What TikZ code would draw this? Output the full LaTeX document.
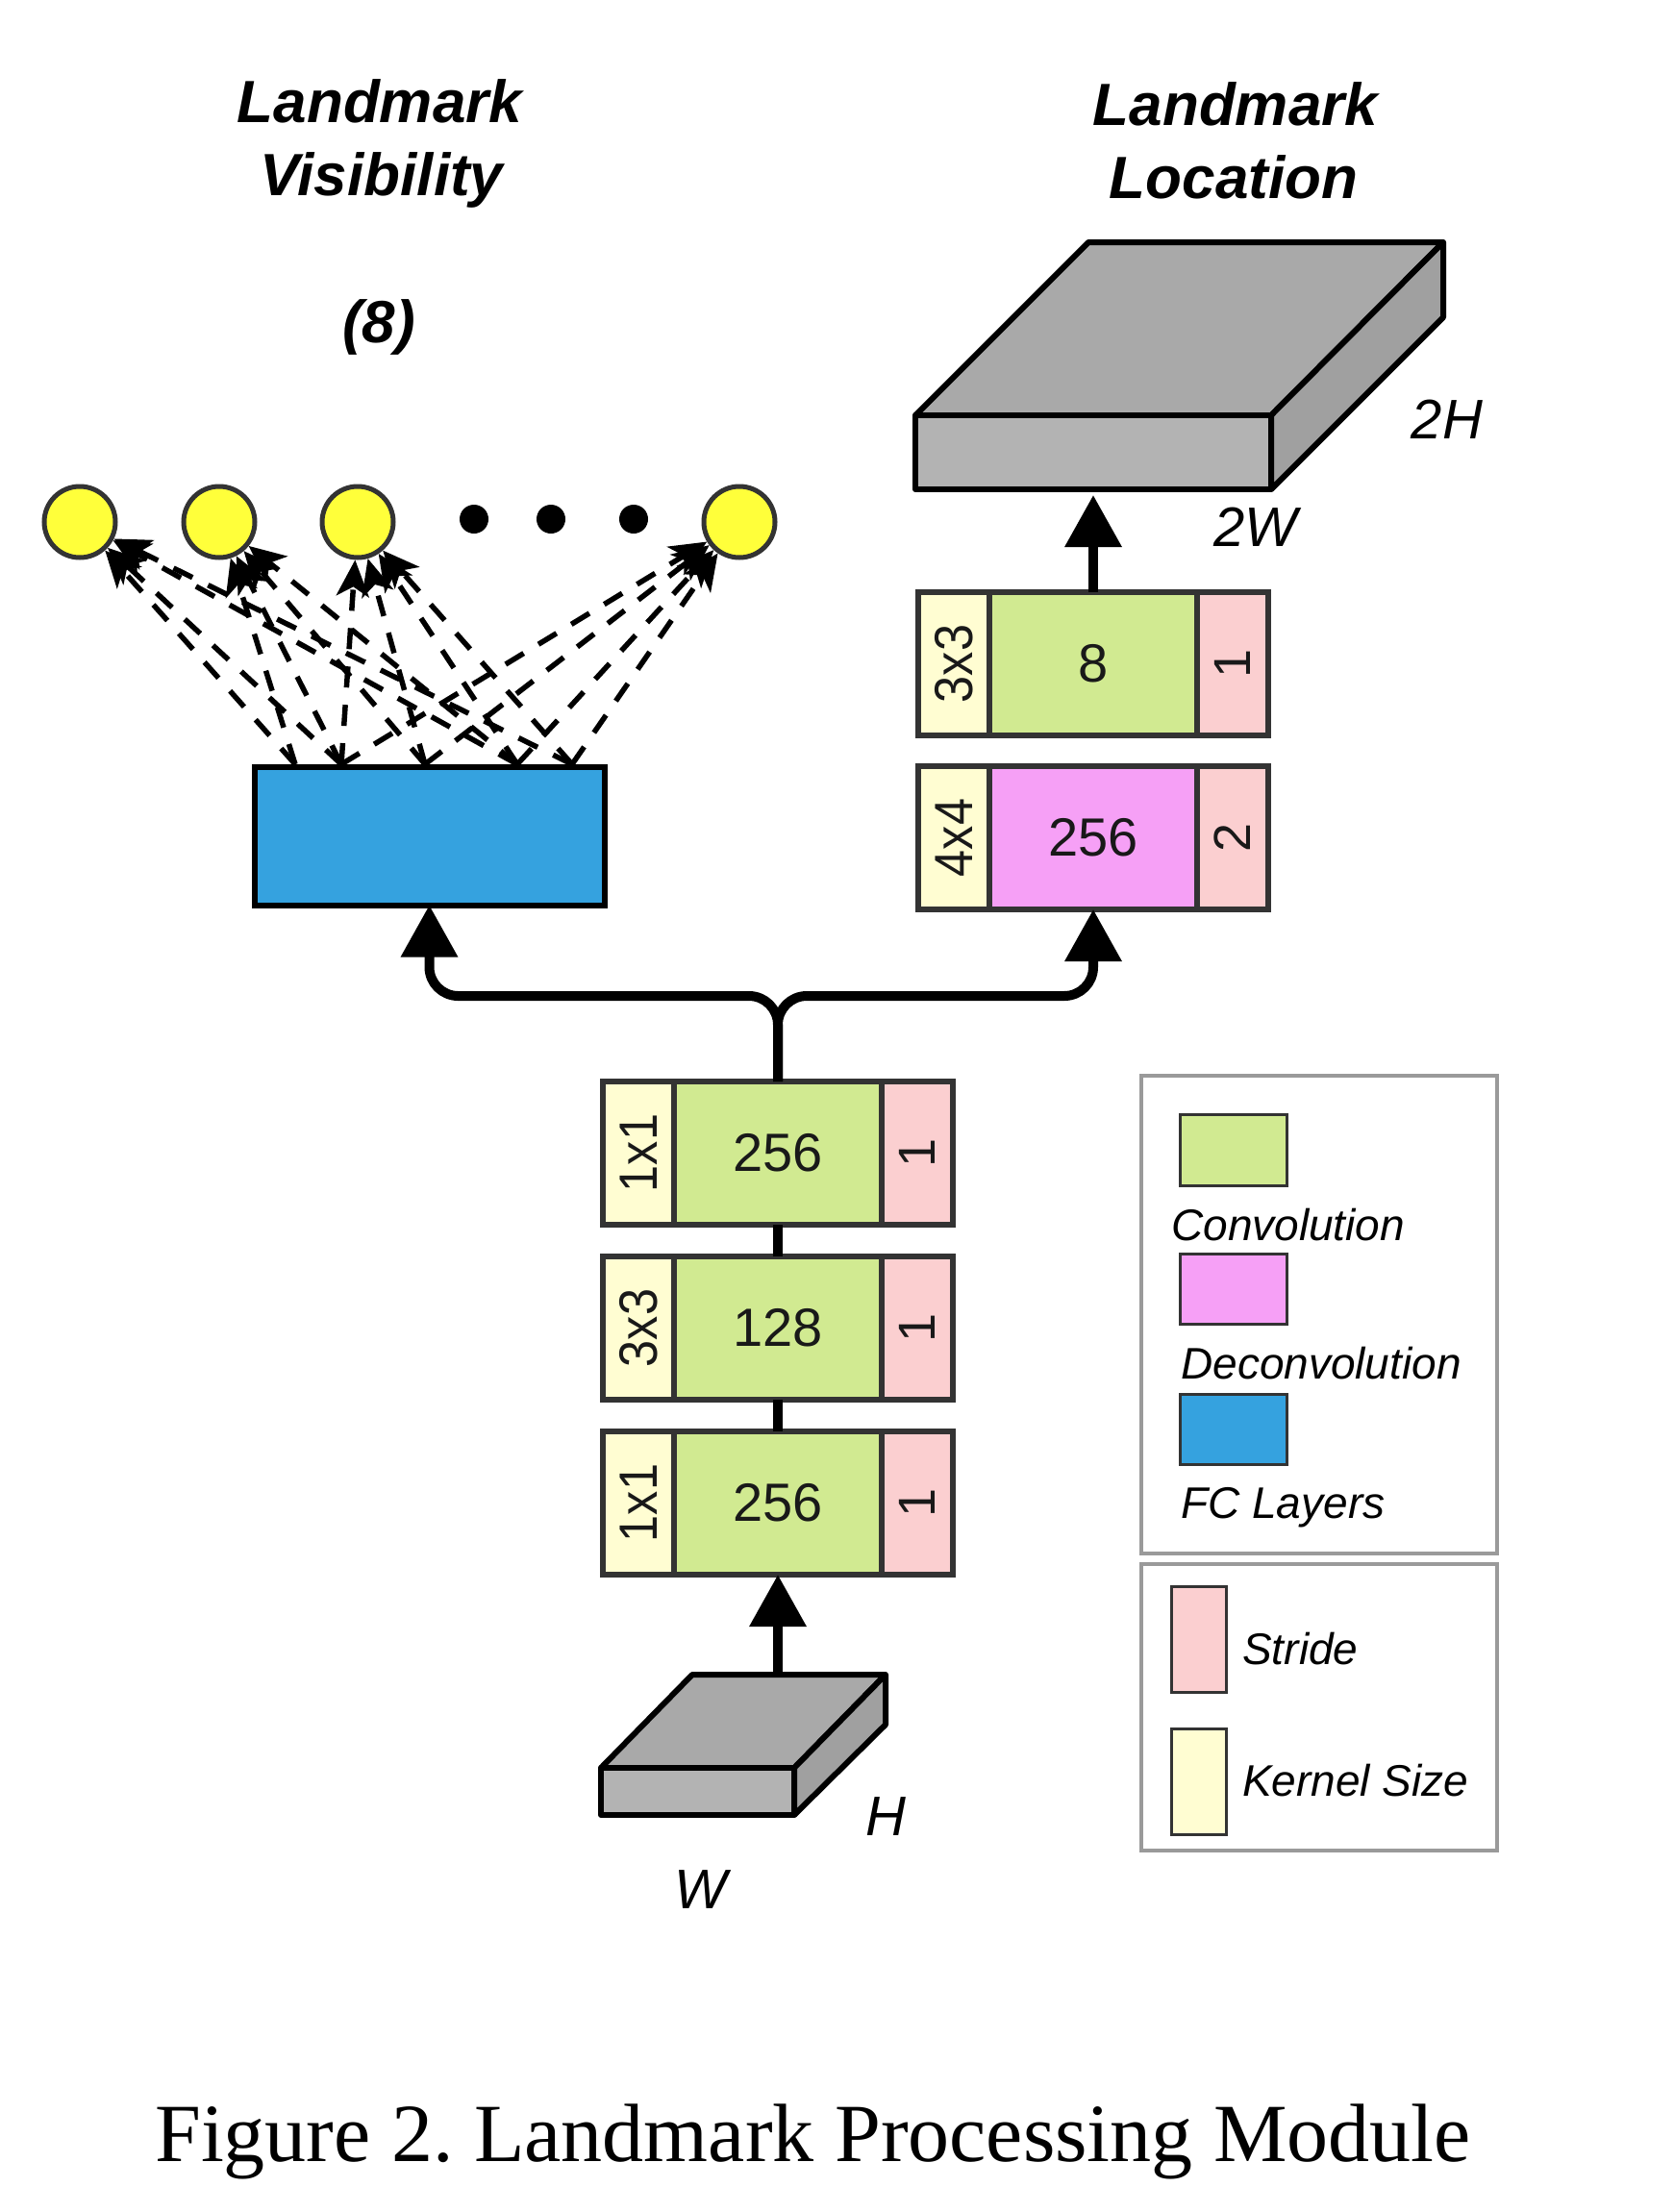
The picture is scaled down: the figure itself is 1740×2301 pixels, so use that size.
\documentclass[tikz,border=0pt]{standalone}
\usepackage{fontspec}
\setmainfont{Liberation Sans}
\newfontfamily\capfont{Liberation Serif}
\usetikzlibrary{arrows.meta}
\definecolor{kern}{HTML}{FFFDD2}
\definecolor{conv}{HTML}{D1EA91}
\definecolor{strd}{HTML}{FBCFD0}
\definecolor{dcnv}{HTML}{F6A0F6}
\definecolor{fcblue}{HTML}{35A2DF}
\definecolor{bdr}{HTML}{333333}
\definecolor{circy}{HTML}{FFFF3A}
\definecolor{legg}{HTML}{9A9A9A}
\definecolor{gtop}{HTML}{A9A9A9}
\definecolor{gfront}{HTML}{B3B3B3}
\definecolor{gside}{HTML}{A0A0A0}
\newcommand{\fsz}[1]{\fontsize{#1pt}{#1pt}\selectfont}
\newcommand{\mklayer}[7]{%
  \node[cell, fill=kern, minimum width=74pt, anchor=north west] (#1k) at (#2,#3) {\rotatebox{90}{\scalebox{0.9}[1]{\fsz{56}#4}}};
  \node[cell, fill=#7, minimum width=216pt, anchor=north west] (#1m) at (#1k.north east) {\fsz{56}#5};
  \node[cell, fill=strd, minimum width=74pt, anchor=north west] (#1s) at (#1m.north east) {\rotatebox{90}{\fsz{54}#6}};
}
\begin{document}
\frenchspacing
\begin{tikzpicture}[x=1pt,y=-1pt,
  cell/.style={draw=bdr, line width=5.5pt, inner sep=0pt, outer sep=0pt, minimum height=149pt, text=black!90},
  arr/.style={line width=10pt, -{Triangle[width=57pt,length=54pt]}},
  conn/.style={line width=10pt},
  dsh/.style={line width=5.5pt, dash pattern=on 22pt off 18pt, -{Stealth[length=38pt,width=34pt,inset=10pt]}},
  vis/.style={circle, draw=bdr, fill=circy, line width=5pt, minimum size=74pt, inner sep=0pt},
  dotn/.style={circle, fill=black, minimum size=30pt, inner sep=0pt},
  lbl/.style={inner sep=0pt, anchor=base},
  lgt/.style={inner sep=0pt, anchor=base west},
  box3d/.style={draw=black, line width=6pt, line join=round},
  legb/.style={draw=legg, line width=4.5pt, inner sep=0pt, outer sep=0pt},
  sw/.style={draw=bdr, line width=3pt, inner sep=0pt, outer sep=0pt, anchor=north west}
]
\useasboundingbox (0,0) rectangle (1740,2301);
\fill[white] (0,0) rectangle (1740,2301);

% titles
\node[lbl] (tv1) at (395,128) {\bfseries\itshape\fsz{62}Landmark};
\node[lbl] (tv2) at (397,204) {\bfseries\itshape\fsz{62}Visibility};
\node[lbl] (tv3) at (394,356) {\bfseries\itshape\fsz{62}(8)};
\node[lbl] (tl1) at (1285,131) {\bfseries\itshape\fsz{62}Landmark};
\node[lbl] (tl2) at (1283,207) {\bfseries\itshape\fsz{62}Location};

% visibility outputs
\node[vis] (v1) at (83,543) {};
\node[vis] (v2) at (228,543) {};
\node[vis] (v3) at (372,543) {};
\node[vis] (v4) at (769,543) {};
\node[dotn] (d1) at (493,540) {};
\node[dotn] (d2) at (573,540) {};
\node[dotn] (d3) at (659,540) {};

% FC layers
\node[draw=black, line width=6pt, fill=fcblue, minimum width=364pt, minimum height=144pt, inner sep=0pt, outer sep=0pt] (fc) at (446.5,869.5) {};
\coordinate (s1) at (307,795);
\coordinate (s2) at (355,795);
\coordinate (s3) at (442,795);
\coordinate (s4) at (538,795);
\coordinate (s5) at (595,795);
\foreach \s/\v in {s1/v1, s2/v1, s4/v1, s5/v1, s1/v2, s2/v2, s3/v2, s4/v2, s2/v3, s3/v3, s4/v3, s5/v3, s2/v4, s3/v4, s4/v4, s5/v4}
  \draw[dsh] (\s) -- (\v);

% big output volume
\filldraw[box3d, fill=gtop] (952,432) -- (1132,252) -- (1501,252) -- (1322,432) -- cycle;
\filldraw[box3d, fill=gside] (1322,432) -- (1501,252) -- (1501,330) -- (1322,509) -- cycle;
\filldraw[box3d, fill=gfront] (952,432) rectangle (1322,509);
\coordinate (bigbot) at (1137,515);
\node[lbl] (d2h) at (1505,456) {\itshape\fsz{58}2H};
\node[lbl] (d2w) at (1306,568) {\itshape\fsz{58}2W};

% right column
\mklayer{r1}{955}{616}{3x3}{8}{1}{conv}
\mklayer{r2}{955}{797}{4x4}{256}{2}{dcnv}
\draw[arr] (r1m.north) -- (bigbot);

% left column
\mklayer{l1}{627}{1125}{1x1}{256}{1}{conv}
\mklayer{l2}{627}{1307}{3x3}{128}{1}{conv}
\mklayer{l3}{627}{1489}{1x1}{256}{1}{conv}
\draw[conn] (l3m.north) -- (l2m.south);
\draw[conn] (l2m.north) -- (l1m.south);

% branch
\coordinate (hy) at (0,1036);
\draw[arr, rounded corners=30pt] (l1m.north) -- (l1m.north |- hy) -- (fc.south |- hy) -- (fc.south);
\draw[arr, rounded corners=30pt] (l1m.north) -- (l1m.north |- hy) -- (r2m.south |- hy) -- (r2m.south);

% small input volume
\filldraw[box3d, fill=gtop] (625,1839) -- (720,1742) -- (921,1742) -- (826,1839) -- cycle;
\filldraw[box3d, fill=gside] (826,1839) -- (921,1742) -- (921,1794) -- (826,1888) -- cycle;
\filldraw[box3d, fill=gfront] (625,1839) rectangle (826,1888);
\coordinate (smalltop) at (809,1742);
\draw[arr] (smalltop) -- (l3m.south);
\node[lbl] (dh) at (921,1909) {\itshape\fsz{58}H};
\node[lbl] (dw) at (729,1985) {\itshape\fsz{58}W};

% legend
\node[legb, minimum width=370pt, minimum height=497pt] (leg1) at (1372,1367.5) {};
\node[legb, minimum width=370pt, minimum height=298pt] (leg2) at (1372,1776) {};
\node[sw, fill=conv, minimum width=111pt, minimum height=74pt] (swc) at (1227,1159) {};
\node[sw, fill=dcnv, minimum width=111pt, minimum height=73pt] (swd) at (1227,1304) {};
\node[sw, fill=fcblue, minimum width=111pt, minimum height=73pt] (swf) at (1227,1450) {};
\node[sw, fill=strd, minimum width=57pt, minimum height=110pt] (sws) at (1218,1650) {};
\node[sw, fill=kern, minimum width=57pt, minimum height=110pt] (swk) at (1218,1798) {};
\node[lgt] (lc) at (1218,1290) {\itshape\fsz{46}Convolution};
\node[lgt] (ld) at (1228,1434) {\itshape\fsz{46}Deconvolution};
\node[lgt] (lf) at (1228,1579) {\itshape\fsz{46}FC Layers};
\node[lgt] (ls) at (1292,1731) {\itshape\fsz{46}Stride};
\node[lgt] (lk) at (1292,1868) {\itshape\fsz{46}Kernel Size};

% caption
\node[lgt] (cap) at (161,2248) {\capfont\fsz{86}Figure 2. Landmark Processing Module};
\end{tikzpicture}
\end{document}
